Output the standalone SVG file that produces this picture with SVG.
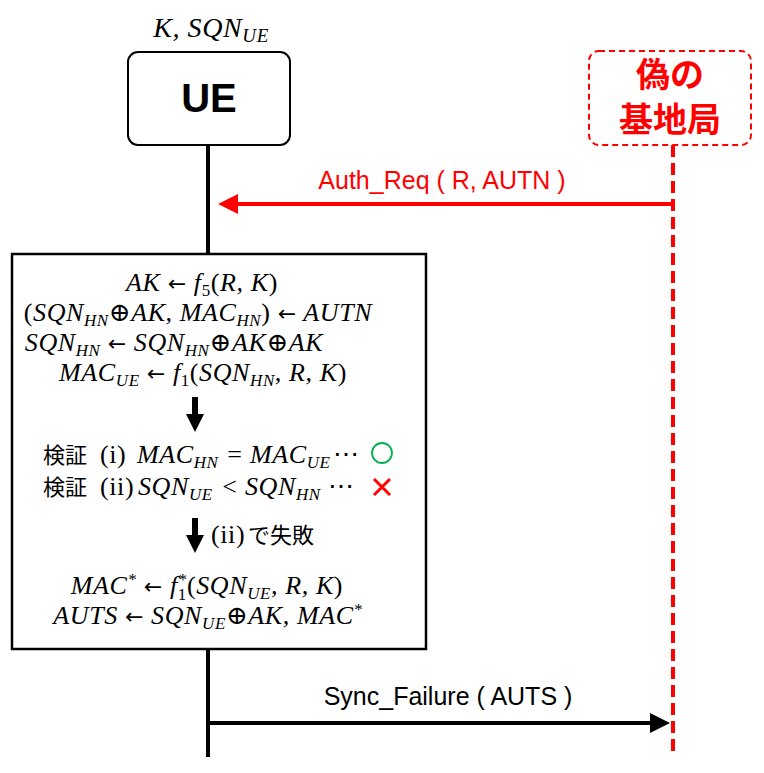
<svg xmlns="http://www.w3.org/2000/svg" width="764" height="773" viewBox="0 0 764 773">
<defs>
<style>
.m{font-family:"Liberation Serif","DejaVu Serif",serif;font-style:italic;font-size:26px;letter-spacing:0.6px;fill:#000}
.u{font-style:normal}
.s{font-size:17px}
.ar{font-family:"DejaVu Sans",sans-serif;font-style:normal;font-size:22px}
.jp{font-family:"Noto Sans CJK JP",sans-serif;font-style:normal;font-size:22px;letter-spacing:0}
.lbl{font-family:"Liberation Sans","Noto Sans",sans-serif;font-size:25px}
</style>
</defs>
<rect width="764" height="773" fill="#fff"/>

<g id="ue">
<text x="211" y="37" text-anchor="middle" class="m" style="font-size:28px">K, SQN<tspan class="s" style="font-size:19px" dy="5">UE</tspan></text>
<rect x="128" y="52" width="162" height="93" rx="10" fill="#fff" stroke="#000" stroke-width="2"/>
<text x="209" y="112" text-anchor="middle" style="font-family:'Liberation Sans',sans-serif;font-weight:bold;font-size:40px">UE</text>
</g>

<g id="fake-bs">
<rect x="589" y="51" width="162" height="94" rx="10" fill="#fff" stroke="#ff0000" stroke-width="2" stroke-dasharray="6,4"/>
<text x="670" y="87" text-anchor="middle" style="font-family:'Noto Sans CJK JP',sans-serif;font-weight:bold;font-size:34px" fill="#ff0000">偽の</text>
<text x="670" y="132" text-anchor="middle" style="font-family:'Noto Sans CJK JP',sans-serif;font-weight:bold;font-size:34px" fill="#ff0000">基地局</text>
</g>

<g id="lifelines">
<line x1="208" y1="145" x2="208" y2="255" stroke="#000" stroke-width="4"/>
<line x1="208" y1="648" x2="208" y2="757" stroke="#000" stroke-width="4"/>
<line x1="673" y1="145" x2="673" y2="757" stroke="#ff0000" stroke-width="4" stroke-dasharray="12,6"/>
</g>

<g id="process">
<rect x="12" y="254" width="414" height="395" fill="#fff" stroke="#000" stroke-width="2.5"/>
<text x="202" y="291" text-anchor="middle" class="m">AK <tspan class="ar">←</tspan> f<tspan class="s u" dy="5">5</tspan><tspan class="u" dy="-5">(</tspan>R, K<tspan class="u">)</tspan></text>
<text x="198" y="321" text-anchor="middle" class="m"><tspan class="u">(</tspan>SQN<tspan class="s" dy="5">HN</tspan><tspan class="u" dy="-5">⊕</tspan>AK, MAC<tspan class="s" dy="5">HN</tspan><tspan class="u" dy="-5">) </tspan><tspan class="ar">←</tspan> AUTN</text>
<text x="174" y="351" text-anchor="middle" class="m">SQN<tspan class="s" dy="5">HN</tspan><tspan class="u" dy="-5"> </tspan><tspan class="ar">←</tspan> SQN<tspan class="s" dy="5">HN</tspan><tspan class="u" dy="-5">⊕</tspan>AK<tspan class="u">⊕</tspan>AK</text>
<text x="203" y="381" text-anchor="middle" class="m">MAC<tspan class="s" dy="5">UE</tspan><tspan class="u" dy="-5"> </tspan><tspan class="ar">←</tspan> f<tspan class="s u" dy="5">1</tspan><tspan class="u" dy="-5">(</tspan>SQN<tspan class="s" dy="5">HN</tspan><tspan dy="-5">, R, K</tspan><tspan class="u">)</tspan></text>

<path d="M192,397 H198 V414 H204 L195,432 L186,414 H192 Z" fill="#000"/>

<text x="43" y="463" class="jp">検証</text>
<text x="100" y="463" class="m u">(i)</text>
<text x="137" y="463" class="m">MAC<tspan class="s" dy="5">HN</tspan></text>
<text x="235" y="463" text-anchor="middle" class="m u">=</text>
<text x="250" y="463" class="m">MAC<tspan class="s" dy="5">UE</tspan></text>
<text x="346" y="463" text-anchor="middle" class="m u">⋯</text>
<circle cx="382" cy="453" r="10" fill="none" stroke="#00b050" stroke-width="1.8"/>

<text x="43" y="495" class="jp">検証</text>
<text x="100" y="495" class="m u">(ii)</text>
<text x="138" y="495" class="m">SQN<tspan class="s" dy="5">UE</tspan></text>
<text x="230" y="495" text-anchor="middle" class="m u">&lt;</text>
<text x="245" y="495" class="m">SQN<tspan class="s" dy="5">HN</tspan></text>
<text x="341" y="495" text-anchor="middle" class="m u">⋯</text>
<path d="M374,479 L390,495 M390,479 L374,495" stroke="#ff0000" stroke-width="3"/>

<path d="M192,518 H198 V535 H204 L195,553 L186,535 H192 Z" fill="#000"/>
<text x="211" y="543" class="m u">(ii)</text>
<text x="248" y="543" class="jp">で失敗</text>

<text x="207" y="594" text-anchor="middle" class="m">MAC<tspan class="s" dy="-9">*</tspan><tspan class="u" dy="9"> </tspan><tspan class="ar">←</tspan> f<tspan class="s u" dy="6">1</tspan><tspan class="s" dx="-9" dy="-15">*</tspan><tspan class="u" dy="9">(</tspan>SQN<tspan class="s" dy="5">UE</tspan><tspan dy="-5">, R, K</tspan><tspan class="u">)</tspan></text>
<text x="208" y="624" text-anchor="middle" class="m">AUTS <tspan class="ar">←</tspan> SQN<tspan class="s" dy="5">UE</tspan><tspan class="u" dy="-5">⊕</tspan>AK, MAC<tspan class="s" dy="-9">*</tspan></text>
</g>

<g id="connectors">
<line x1="671" y1="204" x2="236" y2="204" stroke="#ff0000" stroke-width="4"/>
<path d="M218,204 L238,194 L238,214 Z" fill="#ff0000"/>
<text x="442" y="189" text-anchor="middle" class="lbl" fill="#ff0000">Auth_Req ( R, AUTN )</text>
<line x1="208" y1="723" x2="652" y2="723" stroke="#000" stroke-width="4"/>
<path d="M670,723 L650,713 L650,733 Z" fill="#000"/>
<text x="448" y="705" text-anchor="middle" class="lbl" fill="#000">Sync_Failure ( AUTS )</text>
</g>
</svg>
